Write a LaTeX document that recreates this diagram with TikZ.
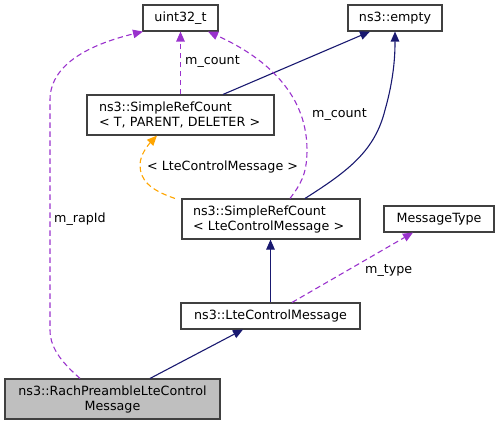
\documentclass[tikz,border=0pt]{standalone}
\usepackage{fontspec}
\setmainfont{DejaVu Sans}
\usetikzlibrary{arrows.meta}
\definecolor{navy}{HTML}{191970}
\definecolor{purp}{HTML}{9A32CD}
\definecolor{orng}{HTML}{FFA500}
\definecolor{bord}{HTML}{404040}
\newcommand{\fnt}{\fontsize{12.7}{15}\selectfont}
\tikzset{
  box/.style={draw=bord, fill=white, line width=1.1pt, inner sep=0pt, font=\fnt},
  onebox/.style={box, minimum height=26pt},
  twobox/.style={box, minimum height=40pt, align=left},
  tip/.style={-{Triangle[length=10pt,width=8.5pt]}},
  inh/.style={tip, draw=navy, line width=1.1pt},
  use/.style={tip, draw=purp, dash pattern=on 5.5pt off 3.5pt, line width=1.1pt},
  tmpl/.style={tip, draw=orng, dash pattern=on 5.5pt off 3.5pt, line width=1.1pt},
  lbl/.style={font=\fnt, anchor=west, inner sep=0pt},
}
\begin{document}
\begin{tikzpicture}[x=1pt,y=-1pt]
\useasboundingbox (0,0) rectangle (500,425);
\node[onebox, minimum width=75pt] (uint) at (180.5,18) {uint32\_t};
\node[onebox, minimum width=94pt] (empty) at (395,18) {ns3::empty};
\node[twobox, text width=163pt, inner xsep=12pt] (srct) at (180.5,115) {ns3::SimpleRefCount\\\textless{} T, PARENT, DELETER \textgreater};
\node[twobox, text width=156pt, inner xsep=11pt] (srcl) at (271,219) {ns3::SimpleRefCount\\\textless{} LteControlMessage \textgreater};
\node[onebox, minimum width=110pt] (msg) at (439,219) {MessageType};
\node[onebox, minimum width=179pt] (lte) at (270.5,316) {ns3::LteControlMessage};
\node[box, fill={rgb,255:red,191;green,191;blue,191}, minimum width=215pt, minimum height=40pt, align=center] (rach) at (112.5,399) {ns3::RachPreambleLteControl\\Message};

\draw[inh] ([xshift=42.5pt]srct.north) -- ([xshift=-25pt]empty.south);
\draw[inh] ([xshift=34pt]srcl.north) .. controls (350,170) and (375,150) .. (385,110) .. controls (395,75) and (395,50) .. (empty.south);
\draw[use] (srct.north) -- (uint.south);
\draw[use] ([xshift=19pt]srcl.north) .. controls (300,185) and (307,175) .. (307,150) .. controls (307,90) and (260,55) .. ([xshift=27.5pt]uint.south);
\draw[use] ([xshift=-32.5pt]rach.north) .. controls (65,365) and (50,350) .. (50,330) -- (50,100) .. controls (50,60) and (100,42) .. ([xshift=-37.5pt]uint.south);
\draw[tmpl] ([xshift=-96pt]srcl.north) .. controls (150,190) and (140,180) .. (140,165) .. controls (140,155) and (148,145) .. ([xshift=-23.5pt]srct.south);
\draw[inh] (lte.north) -- (lte.north |- srcl.south);
\draw[use] ([xshift=21.5pt]lte.north) -- ([xshift=-26pt]msg.south);
\draw[inh] ([xshift=37.5pt]rach.north) -- ([xshift=-27.5pt]lte.south);

\node[lbl] (l1) at (185,62) {m\_count};
\node[lbl] (l2) at (312,115) {m\_count};
\node[lbl] (l3) at (147,167) {\textless{} LteControlMessage \textgreater};
\node[lbl] (l4) at (54,219) {m\_rapId};
\node[lbl] (l5) at (365,271) {m\_type};
\end{tikzpicture}
\end{document}
